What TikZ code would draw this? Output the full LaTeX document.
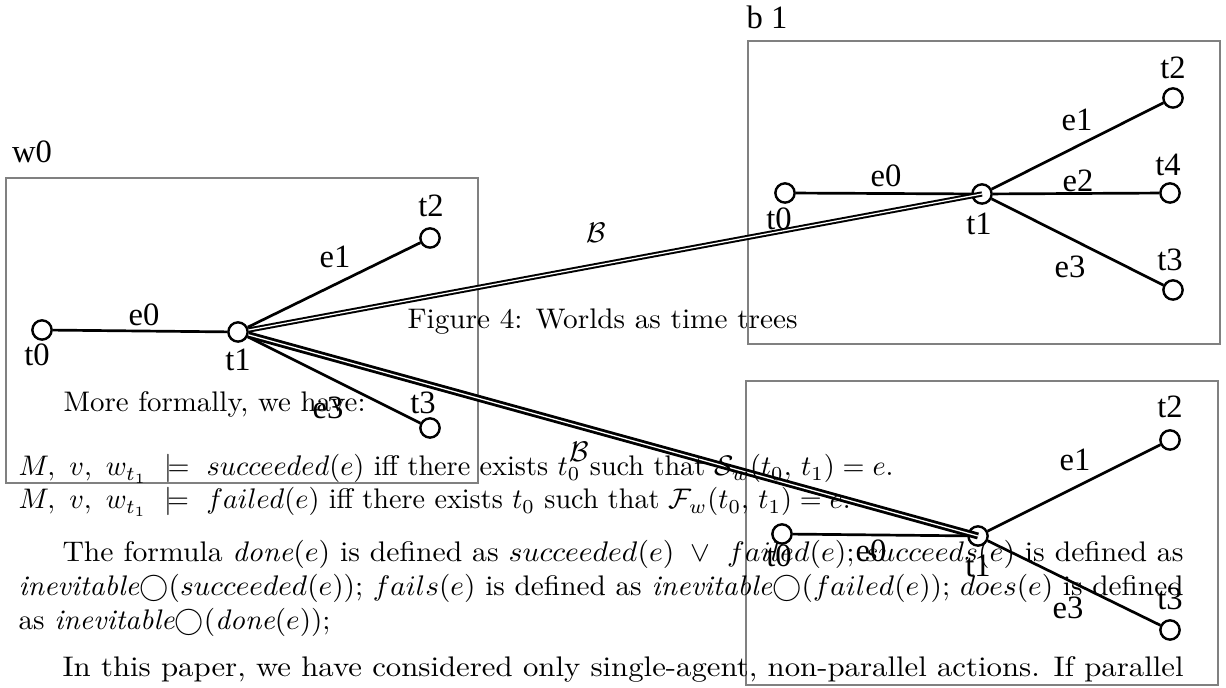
\documentclass[tikz,border=0pt]{standalone}
\usepackage{fontspec}
\usepackage{graphicx}
\newfontfamily\labfont{Liberation Serif}
\newdimen\pxu \pxu=0.353pt
\newcommand{\tline}[2]{\resizebox{#1\pxu}{\height}{#2}}
\begin{document}
\begin{tikzpicture}[x=0.353pt,y=-0.353pt,
  world/.style={draw=gray, line width=0.75pt},
  tp/.style={circle, draw, fill=white, line width=0.85pt, minimum size=6.8pt, inner sep=0pt},
  lab/.style={font=\labfont\fontsize{11.5}{12}\selectfont, inner sep=0pt},
  edge/.style={line width=0.95pt},
  bone/.style={double, line width=0.7pt, double distance=0.45pt},
  btwo/.style={double, line width=1.0pt, double distance=0.45pt},
  txt/.style={anchor=base west, inner sep=0pt}]
\useasboundingbox (0,0) rectangle (1226,688);
% world boxes
\draw[world] (6,178) rectangle (478,483);
\draw[world] (748,41) rectangle (1220,344);
\draw[world] (746,381) rectangle (1218,685);
\node[lab] (lw0) at (32,152) {w0};
\node[lab] (lb1) at (767,17) {b 1};
% w0 tree
\node[tp] (wt0) at (42,330) {};
\node[tp] (wt1) at (238,332) {};
\node[tp] (wt2) at (430,238) {};
\node[tp] (wt3) at (430,428) {};
\draw[edge] (wt0) -- (wt1);
\draw[edge] (wt1) -- (wt2);
\draw[edge] (wt1) -- (wt3);
\node[lab] (lwt0) at (37,355) {t0};
\node[lab] (lwt1) at (238,360) {t1};
\node[lab] (lwt2) at (431,206) {t2};
\node[lab] (lwt3) at (423,403) {t3};
\node[lab] (lwe0) at (144,315) {e0};
\node[lab] (lwe1) at (335,257) {e1};
\node[lab] (lwe3) at (328,408) {e3};
% b1 tree
\node[tp] (bt0) at (785,193) {};
\node[tp] (bt1) at (982,194) {};
\node[tp] (bt2) at (1173,98) {};
\node[tp] (bt4) at (1170,193) {};
\node[tp] (bt3) at (1173,290) {};
\draw[edge] (bt0) -- (bt1);
\draw[edge] (bt1) -- (bt2);
\draw[edge] (bt1) -- (bt4);
\draw[edge] (bt1) -- (bt3);
\node[lab] (lbt0) at (779,219) {t0};
\node[lab] (lbt1) at (979,224) {t1};
\node[lab] (lbt2) at (1173,68) {t2};
\node[lab] (lbt4) at (1168,165) {t4};
\node[lab] (lbt3) at (1170,260) {t3};
\node[lab] (lbe0) at (886,176) {e0};
\node[lab] (lbe1) at (1077,120) {e1};
\node[lab] (lbe2) at (1078,181) {e2};
\node[lab] (lbe3) at (1070,267) {e3};
% lower tree
\node[tp] (ct0) at (782,534) {};
\node[tp] (ct1) at (978,536) {};
\node[tp] (ct2) at (1170,440) {};
\node[tp] (ct3) at (1170,630) {};
\draw[edge] (ct0) -- (ct1);
\draw[edge] (ct1) -- (ct2);
\draw[edge] (ct1) -- (ct3);
\node[lab] (lct0) at (779,556) {t0};
\node[lab] (lct1) at (978,566) {t1};
\node[lab] (lct2) at (1170,407) {t2};
\node[lab] (lct3) at (1170,599) {t3};
\node[lab] (lce0) at (871,551) {e0};
\node[lab] (lce1) at (1075,460) {e1};
\node[lab] (lce3) at (1068,608) {e3};
% B connectors
\draw[bone] (wt1) -- (bt1.center);
\draw[btwo] (wt1) -- (ct1.center);
\node[inner sep=0pt] (lB1) at (596,233) {$\mathcal{B}$};
\node[inner sep=0pt] (lB2) at (579,452) {$\mathcal{B}$};
% overlaid text
\node[txt] (cap) at (407,329) {\tline{390}{Figure 4: Worlds as time trees}};
\node[txt] (p1) at (63,412) {\tline{302}{More formally, we have:}};
\node[txt] (p2) at (18,476) {\tline{875}{$M,\ v,\ w_{t_1}\ \models\ succeeded(e)$ iff there exists $t_0$ such that $\mathcal{S}_w(t_0,\, t_1)=e$.}};
\node[txt] (p3) at (18,509) {\tline{832}{$M,\ v,\ w_{t_1}\ \models\ failed(e)$ iff there exists $t_0$ such that $\mathcal{F}_w(t_0,\, t_1)=e$.}};
\node[txt] (p4) at (62,562) {\tline{1121}{The formula \textit{done}$(e)$ is defined as $succeeded(e)\ \vee\ failed(e)$; $succeeds(e)$ is defined as}};
\node[txt] (p5) at (18,596) {\tline{1165}{\textit{inevitable}$\bigcirc(succeeded(e))$; $fails(e)$ is defined as \textit{inevitable}$\bigcirc(failed(e))$; $does(e)$ is defined}};
\node[txt] (p6) at (18,630) {\tline{312}{as \textit{inevitable}$\bigcirc(\textit{done}(e))$;}};
\node[txt] (p7) at (62,677) {\tline{1121}{In this paper, we have considered only single-agent, non-parallel actions. If parallel}};
\end{tikzpicture}
\end{document}
